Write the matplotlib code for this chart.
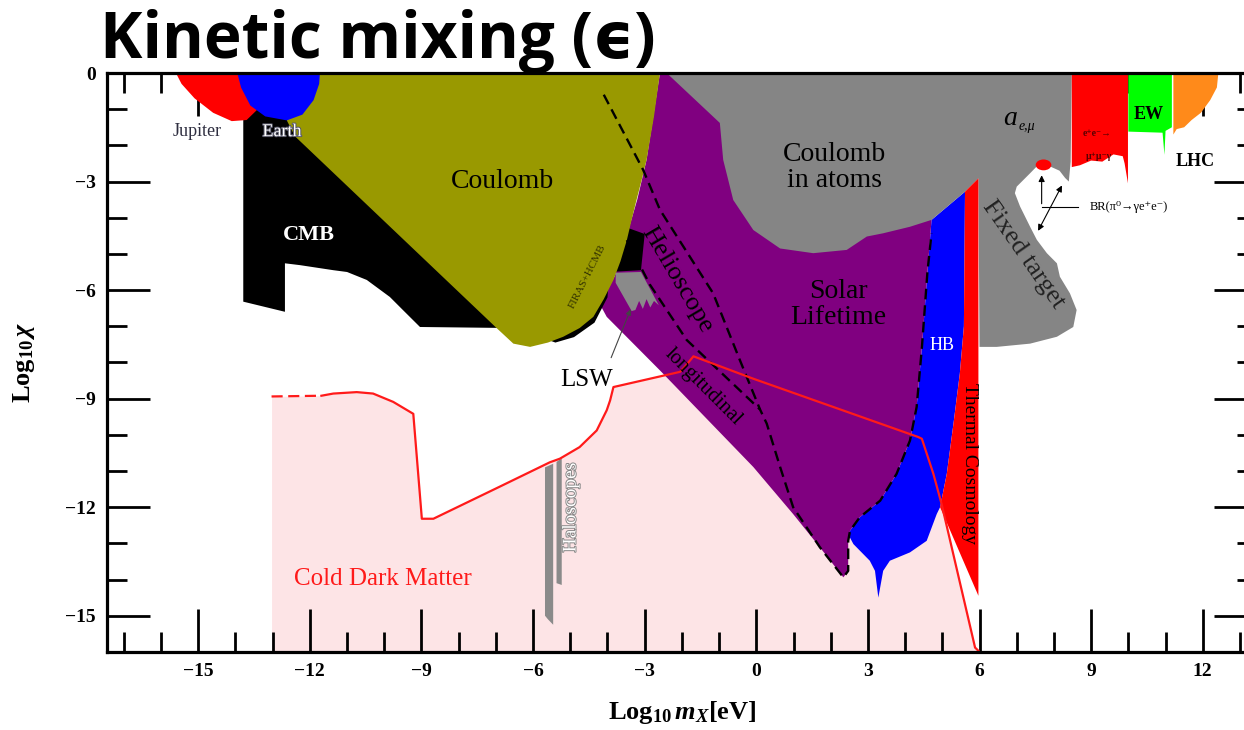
import matplotlib
matplotlib.use("Agg")
import matplotlib.pyplot as plt
import matplotlib.patheffects as pe
from matplotlib.patches import Ellipse

plt.rcParams['font.family'] = ['Liberation Serif', 'DejaVu Serif']
plt.rcParams['mathtext.fontset'] = 'custom'
plt.rcParams['mathtext.rm'] = 'Liberation Serif:bold'
plt.rcParams['mathtext.bf'] = 'Liberation Serif:bold'
plt.rcParams['mathtext.it'] = 'Liberation Serif:italic:bold'

# ---- constraint regions (log10 m [eV], log10 chi) ----
jupiter_x = [-15.6, -15.45, -15.1, -14.6, -14.1, -13.7, -13.4, -13.3, -13.3]
jupiter_y = [0.0, -0.3, -0.7, -1.1, -1.33, -1.3, -1.0, -0.8, 0.0]

earth_x = [-13.95, -13.85, -13.6, -13.2, -12.62, -12.2, -11.9, -11.75, -11.73]
earth_y = [0.0, -0.4, -0.9, -1.2, -1.31, -1.15, -0.75, -0.3, 0.0]

cmb_x = [-13.79, -12.3, -3.0, -3.1, -3.95, -4.0, -4.35, -4.9, -5.4, -6.5, -9.04,
         -9.5, -9.85, -10.47, -11.0, -11.37, -12.27, -12.67, -12.67, -13.79]
cmb_y = [-1.0, -1.0, -4.45, -5.45, -5.5, -6.2, -6.9, -7.3, -7.45, -7.05, -7.02,
         -6.55, -6.19, -5.72, -5.5, -5.45, -5.31, -5.26, -6.6, -6.32]

coulomb_x = [-11.73, -2.59, -2.75, -2.95, -3.08, -3.22, -3.35, -3.48, -3.65, -3.84,
             -4.1, -4.38, -4.75, -5.19, -5.6, -6.08, -6.53, -6.98, -12.4, -12.62, -12.0]
coulomb_y = [0.0, 0.0, -1.2, -2.4, -2.95, -3.51, -4.05, -4.62, -5.2, -5.72,
             -6.25, -6.74, -7.05, -7.29, -7.45, -7.57, -7.48, -7.05, -1.75, -1.31, -0.5]

purple_x = [-2.59, 4.8, 4.71, 4.6, 4.45, 4.31, 4.13, 3.77, 3.33, 2.78, 2.52, 2.47,
            2.47, 2.34, 1.71, 0.99, -0.08, -2.59, -4.02, -4.2, -3.8, -3.2, -2.95]
purple_y = [0.0, 0.0, -4.06, -5.5, -7.6, -9.23, -10.16, -11.08, -11.82, -12.28, -12.65, -12.93,
            -13.76, -13.94, -13.11, -12.19, -10.89, -8.22, -6.74, -6.4, -5.6, -3.5, -2.4]

hb_x = [4.71, 5.61, 5.58, 5.47, 5.30, 5.12, 4.94, 4.85, 4.58, 4.13, 3.59, 3.41, 3.28,
        3.19, 3.05, 2.61, 2.47, 2.52, 2.78, 3.33, 3.77, 4.13, 4.31, 4.45, 4.6]
hb_y = [-4.06, -3.28, -7.0, -8.31, -9.69, -11.08, -12.0, -12.19, -12.93, -13.25, -13.48, -13.76, -14.5,
        -13.76, -13.48, -13.02, -12.75, -12.65, -12.28, -11.82, -11.08, -10.16, -9.23, -7.6, -5.5]

thermal_x = [5.61, 5.97, 5.97, 4.94, 5.12, 5.30, 5.47, 5.58]
thermal_y = [-3.28, -2.91, -14.45, -12.0, -11.08, -9.69, -8.31, -7.0]

atoms_x = [-2.41, 8.48, 8.45, 8.40, 8.3, 8.15, 7.89, 7.54, 7.36, 7.0, 6.95, 7.09, 7.36, 7.54,
           7.81, 8.08, 8.16, 8.43, 8.61, 8.52, 8.08, 7.36, 6.46, 6.0, 5.97, 5.61, 4.71,
           4.13, 3.41, 2.97, 2.43, 1.53, 0.64, -0.08, -0.62, -0.89, -0.98]
atoms_y = [0.0, 0.0, -2.45, -3.0, -2.9, -2.7, -2.58, -2.58, -2.77, -3.14, -3.32, -3.69, -4.25, -4.61,
           -4.98, -5.26, -5.63, -6.09, -6.55, -7.02, -7.29, -7.48, -7.57, -7.57, -2.91, -3.28, -4.06,
           -4.25, -4.43, -4.52, -4.89, -4.98, -4.85, -4.34, -3.51, -2.40, -1.38]

lsw_x = [-3.78, -3.1, -2.62, -2.75, -2.85, -2.95, -3.05, -3.15, -3.25, -3.35, -3.78]
lsw_y = [-5.52, -5.5, -6.42, -6.3, -6.48, -6.25, -6.52, -6.3, -6.55, -6.58, -5.8]

halo1_x = [-5.68, -5.46, -5.46, -5.6, -5.68]
halo1_y = [-10.9, -10.8, -15.25, -15.1, -15.0]
halo2_x = [-5.37, -5.23, -5.23, -5.37]
halo2_y = [-10.75, -10.65, -14.15, -14.1]

ee_x = [8.48, 9.99, 9.99, 9.9, 9.85, 9.6, 9.3, 9.0, 8.7, 8.48]
ee_y = [0.0, 0.0, -3.05, -2.5, -2.3, -2.25, -2.45, -2.42, -2.55, -2.6]

ew_x = [10.0, 11.17, 11.17, 11.0, 10.97, 10.92, 10.0]
ew_y = [0.0, 0.0, -1.5, -1.6, -2.26, -1.65, -1.62]

lhc_x = [11.21, 12.42, 12.38, 12.2, 11.95, 11.7, 11.5, 11.3, 11.21]
lhc_y = [0.0, 0.0, -0.4, -0.75, -1.1, -1.3, -1.5, -1.55, -1.7]

# cold dark matter window (upper edge)
cdm_x = [-13.03, -11.69, -11.37, -10.74, -10.30, -9.76, -9.22, -8.99, -8.68, -6.89, -5.55,
         -5.28, -4.75, -4.29, -4.02, -3.93, -3.84, -2.05, -1.92, -1.69, -0.08, 4.35, 4.45,
         4.76, 4.98, 5.88, 6.0]
cdm_y = [-8.94, -8.92, -8.86, -8.82, -8.86, -9.09, -9.42, -12.32, -12.32, -11.43, -10.76,
         -10.66, -10.34, -9.88, -9.32, -9.05, -8.68, -8.26, -8.12, -7.83, -8.45, -10.06, -10.11,
         -11.08, -11.91, -15.88, -16.0]

# helioscope / solar lifetime dashed boundaries
helio_x = [-4.1, -3.04, -2.59, -1.16, -0.44, 0.1, 0.28, 0.64, 0.99, 1.71, 2.34, 2.47, 2.47,
           2.52, 2.78, 3.33, 3.77, 4.13, 4.31, 4.45, 4.6, 4.71]
helio_y = [-0.6, -2.68, -3.78, -6.09, -7.94, -9.3, -9.69, -10.89, -12.0, -13.11, -13.94, -13.76,
           -12.93, -12.65, -12.28, -11.82, -11.08, -10.16, -9.23, -7.6, -5.5, -4.43]
longi_x = [-3.48, -2.86, -1.87, 0.1]
longi_y = [-4.62, -5.85, -7.38, -9.3]

x_major = [-15, -12, -9, -6, -3, 0, 3, 6, 9, 12]
y_major = [0, -3, -6, -9, -12, -15]

fig = plt.figure(figsize=(12.44, 7.30), dpi=100)
ax = fig.add_axes([0.0858, 0.107, 0.9247, 0.793])
ax.set_xlim(-17.46, 13.46)
ax.set_ylim(-16, 0)

PINK = '#fde4e6'
ax.fill_between(cdm_x, cdm_y, -16, color=PINK, lw=0, zorder=1)

def region(xs, ys, color, z):
    ax.fill(xs, ys, color=color, lw=0, zorder=z)

region(halo1_x, halo1_y, '#8a8a8a', 2)
region(halo2_x, halo2_y, '#8a8a8a', 2)
region(hb_x, hb_y, '#0000ff', 2)
region(purple_x, purple_y, '#800080', 3)
region(cmb_x, cmb_y, '#000000', 4)
region(coulomb_x, coulomb_y, '#999900', 5)
region(atoms_x, atoms_y, '#858585', 5)
region(lsw_x, lsw_y, '#8a8a8a', 5)
region(thermal_x, thermal_y, '#ff0000', 6)
region(jupiter_x, jupiter_y, '#ff0000', 6)
region(earth_x, earth_y, '#0000ff', 7)
region(ee_x, ee_y, '#ff0000', 6)
region(ew_x, ew_y, '#00ff00', 6)
region(lhc_x, lhc_y, '#ff8a1a', 6)
ax.add_patch(Ellipse((7.72, -2.54), 0.42, 0.3, color='#ff0000', lw=0, zorder=7))

ax.plot(helio_x, helio_y, color='black', lw=1.7, ls=(0, (4.5, 2.5)), zorder=8)
ax.plot(longi_x, longi_y, color='black', lw=1.7, ls=(0, (4.5, 2.5)), zorder=8)

ax.plot(cdm_x[:2], cdm_y[:2], color='#ff1a1a', lw=1.6, ls=(0, (5, 2.5)), zorder=9)
ax.plot(cdm_x[1:], cdm_y[1:], color='#ff1a1a', lw=1.6, zorder=9)

# arrows for the pi0 branching ratio and LSW
ax.plot([8.66, 7.67], [-3.69, -3.69], color='black', lw=0.8, zorder=9)
ax.annotate('', xy=(7.67, -2.75), xytext=(7.67, -3.69),
            arrowprops=dict(arrowstyle='-|>', color='black', lw=0.8, mutation_scale=9), zorder=9)
ax.annotate('', xy=(8.25, -3.04), xytext=(7.54, -4.43),
            arrowprops=dict(arrowstyle='<|-|>', color='black', lw=0.8, mutation_scale=9), zorder=9)
ax.annotate('', xy=(-3.35, -6.46), xytext=(-3.93, -7.94),
            arrowprops=dict(arrowstyle='-|>', color='#444444', lw=0.8, mutation_scale=8), zorder=9)

# region labels
def label(x, y, s, size, color='black', rot=0, weight='normal', style='normal', outline=None, **kw):
    t = ax.text(x, y, s, fontsize=size, color=color, rotation=rot, fontweight=weight,
                fontstyle=style, ha='center', va='center', zorder=10,
                rotation_mode='anchor', **kw)
    if outline:
        t.set_path_effects([pe.withStroke(linewidth=1.4, foreground=outline)])
    return t

label(-15.04, -1.62, 'Jupiter', 13, color='#2e2e40')
label(-12.75, -1.62, 'Earth', 13, color='white', outline='#555566')
label(-12.04, -4.48, 'CMB', 16, color='white', weight='bold')
label(-6.81, -3.0, 'Coulomb', 20)
label(-4.55, -5.63, 'FIRAS+HCMB', 8, color='#333300', rot=63)
label(2.1, -2.6, 'Coulomb\nin atoms', 20, linespacing=1.05)
label(2.2, -6.4, 'Solar\nLifetime', 20, linespacing=1.05)
label(-2.14, -5.72, 'Helioscope', 19, rot=-59.5)
label(-1.42, -8.68, 'longitudinal', 15, rot=-45)
label(-4.56, -8.49, 'LSW', 18)
label(4.98, -7.52, 'HB', 13, color='white')
label(5.72, -10.8, 'Thermal Cosmology', 14, rot=-90)
label(-4.98, -12.0, 'Haloscopes', 14, color='white', rot=90, outline='#888888')
label(-10.03, -13.99, 'Cold Dark Matter', 18, color='#ff1a1a')
label(7.18, -5.03, 'Fixed target', 19, rot=-55, color='#222222')
label(10.56, -1.15, 'EW', 13, weight='bold')
label(11.79, -2.45, 'LHC', 13, weight='bold')
label(9.17, -1.66, 'e⁺e⁻→', 7, color='#550000', weight='bold')
label(9.2, -2.31, 'μ⁺μ⁻γ', 7, color='#550000', weight='bold')
ax.text(6.82, -1.27, 'a', fontsize=20, fontstyle='italic', ha='center', va='center', zorder=10)
ax.text(7.05, -1.48, 'e,μ', fontsize=10, fontstyle='italic', ha='left', va='center', zorder=10)
ax.text(8.97, -3.69, 'BR(π⁰→γe⁺e⁻)', fontsize=9, ha='left', va='center', zorder=10)

# axes styling
for s in ax.spines.values():
    s.set_linewidth(2.3)
    s.set_zorder(12)
ax.set_xticks(x_major)
ax.set_yticks(y_major)
ax.set_xticks(range(-17, 14), minor=True)
ax.set_yticks(range(-16, 1), minor=True)
ax.set_xticklabels([f'{v}'.replace('-', '\u2212') for v in x_major])
ax.set_yticklabels([f'{v}'.replace('-', '\u2212') for v in y_major])
ax.tick_params(which='both', direction='in', top=True, right=True, width=2.0, colors='black')
ax.tick_params(which='major', length=31, pad=8, labelsize=14)
ax.tick_params(which='minor', length=14.5)
for t in ax.get_xticklabels() + ax.get_yticklabels():
    t.set_fontweight('bold')
ax.set_axisbelow(False)

ax.set_xlabel(r'Log$_{10}\,m_X$[eV]', fontsize=19, fontweight='bold', labelpad=14)
ax.set_ylabel(r'Log$_{10}\,\chi$', fontsize=19, fontweight='bold', labelpad=20)

fig.text(0.0804, 0.92, 'Kinetic mixing (ϵ)', fontsize=46, fontweight='bold',
         family=['Open Sans', 'DejaVu Sans'], va='baseline', ha='left')

fig.savefig('out.png', dpi=100)
